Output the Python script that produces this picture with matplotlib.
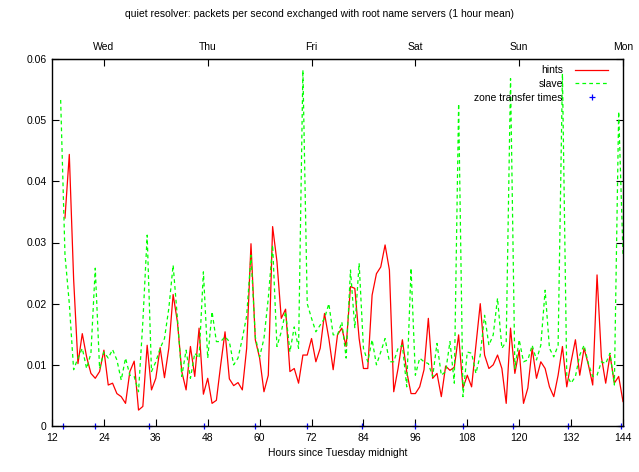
import matplotlib
matplotlib.use("Agg")
import matplotlib.pyplot as plt
import numpy as np

plt.rcParams['font.family'] = ['Liberation Sans', 'DejaVu Sans']

# hourly means (packets/s), hours since Tuesday midnight
hints_hours = list(range(15, 145))
hints = [0.0340, 0.0444, 0.0240, 0.0102, 0.0151, 0.0113, 0.0086, 0.0078, 0.0089, 0.0124,
         0.0067, 0.0070, 0.0053, 0.0048, 0.0037, 0.0089, 0.0106, 0.0026, 0.0032, 0.0132,
         0.0059, 0.0078, 0.0128, 0.0079, 0.0127, 0.0215, 0.0170, 0.0089, 0.0059, 0.0130,
         0.0081, 0.0160, 0.0052, 0.0078, 0.0037, 0.0042, 0.0100, 0.0154, 0.0077, 0.0066,
         0.0071, 0.0059, 0.0127, 0.0298, 0.0141, 0.0111, 0.0056, 0.0083, 0.0326, 0.0269,
         0.0176, 0.0191, 0.0089, 0.0094, 0.0070, 0.0116, 0.0116, 0.0143, 0.0105, 0.0127,
         0.0184, 0.0143, 0.0092, 0.0149, 0.0160, 0.0130, 0.0228, 0.0225, 0.0143, 0.0094,
         0.0094, 0.0214, 0.0249, 0.0260, 0.0296, 0.0255, 0.0056, 0.0094, 0.0141, 0.0089,
         0.0053, 0.0053, 0.0064, 0.0092, 0.0176, 0.0078, 0.0086, 0.0048, 0.0098, 0.0091,
         0.0096, 0.0149, 0.0062, 0.0083, 0.0064, 0.0132, 0.0200, 0.0116, 0.0094, 0.0100,
         0.0116, 0.0094, 0.0037, 0.0160, 0.0086, 0.0124, 0.0037, 0.0062, 0.0127, 0.0078,
         0.0105, 0.0094, 0.0064, 0.0048, 0.0083, 0.0130, 0.0064, 0.0105, 0.0141, 0.0083,
         0.0127, 0.0100, 0.0067, 0.0247, 0.0113, 0.0070, 0.0116, 0.0070, 0.0081, 0.0040]

slave_hours = list(range(14, 145))
slave = [0.0533, 0.0280, 0.0200, 0.0092, 0.0111, 0.0127, 0.0094, 0.0119, 0.0258, 0.0094,
         0.0121, 0.0111, 0.0125, 0.0108, 0.0075, 0.0111, 0.0083, 0.0081, 0.0056, 0.0170,
         0.0312, 0.0089, 0.0105, 0.0127, 0.0143, 0.0192, 0.0263, 0.0176, 0.0081, 0.0124,
         0.0078, 0.0119, 0.0111, 0.0252, 0.0111, 0.0187, 0.0138, 0.0138, 0.0146, 0.0138,
         0.0100, 0.0111, 0.0143, 0.0180, 0.0279, 0.0146, 0.0113, 0.0143, 0.0209, 0.0296,
         0.0130, 0.0154, 0.0187, 0.0121, 0.0162, 0.0127, 0.0582, 0.0200, 0.0176, 0.0154,
         0.0165, 0.0176, 0.0200, 0.0149, 0.0149, 0.0170, 0.0111, 0.0255, 0.0160, 0.0266,
         0.0127, 0.0105, 0.0141, 0.0100, 0.0121, 0.0143, 0.0105, 0.0105, 0.0127, 0.0132,
         0.0064, 0.0258, 0.0083, 0.0111, 0.0105, 0.0102, 0.0081, 0.0135, 0.0083, 0.0089,
         0.0138, 0.0070, 0.0527, 0.0048, 0.0121, 0.0119, 0.0086, 0.0116, 0.0181, 0.0132,
         0.0149, 0.0209, 0.0127, 0.0138, 0.0568, 0.0094, 0.0141, 0.0105, 0.0108, 0.0132,
         0.0108, 0.0132, 0.0222, 0.0127, 0.0113, 0.0132, 0.0576, 0.0083, 0.0070, 0.0081,
         0.0116, 0.0132, 0.0102, 0.0081, 0.0083, 0.0105, 0.0102, 0.0119, 0.0067, 0.0514,
         0.0280]

zone_transfer_times = [14.5, 22.0, 34.5, 47.2, 59.0, 71.0, 83.6, 95.9, 107.0, 118.6, 131.2, 143.6]

x_ticks = [12, 24, 36, 48, 60, 72, 84, 96, 108, 120, 132, 144]
day_ticks = [24, 48, 72, 96, 120, 144]
day_labels = ['Wed', 'Thu', 'Fri', 'Sat', 'Sun', 'Mon']
y_ticks = [0, 0.01, 0.02, 0.03, 0.04, 0.05, 0.06]
y_labels = ['0', '0.01', '0.02', '0.03', '0.04', '0.05', '0.06']

fs = 7.5
fig = plt.figure(figsize=(6.39, 4.72), dpi=100)
ax = fig.add_axes([52/639, 1-426/472, (623-52)/639, (426-59)/472])

ax.plot(hints_hours, hints, color='#ff0000', lw=0.9, label='hints')
ax.plot(slave_hours, slave, color='#00ff00', lw=0.9, ls=(0, (3, 2.5)), label='slave')
ax.plot(zone_transfer_times, [0]*len(zone_transfer_times), ls='none', marker='+',
        color='#0000ff', ms=5, mew=0.9, clip_on=False, label='zone transfer times')

ax.set_xlim(12, 144)
ax.set_ylim(0, 0.06)
ax.set_xticks(x_ticks)
ax.set_xticklabels([str(t) for t in x_ticks], fontsize=fs)
ax.set_yticks(y_ticks)
ax.set_yticklabels(y_labels, fontsize=fs)
ax.tick_params(direction='in', length=5, width=0.8, right=True, top=False, pad=4)
ax.tick_params(axis='x', pad=5)

sec = ax.secondary_xaxis('top')
sec.set_xticks(day_ticks)
sec.set_xticklabels(day_labels, fontsize=fs)
sec.tick_params(direction='in', length=5, width=0.8, pad=5)

for s in ax.spines.values():
    s.set_linewidth(1.0)

ax.set_xlabel('Hours since Tuesday midnight', fontsize=fs, labelpad=4)
fig.text(0.5, 1-14/472, 'quiet resolver: packets per second exchanged with root name servers (1 hour mean)',
         ha='center', va='center', fontsize=fs)

leg = ax.legend(loc='upper right', frameon=False, markerfirst=False, fontsize=fs,
                handlelength=3.2, handletextpad=1.15, labelspacing=0.35,
                borderaxespad=0.2, bbox_to_anchor=(0.985, 1.0))

fig.savefig('out.png', dpi=100)
